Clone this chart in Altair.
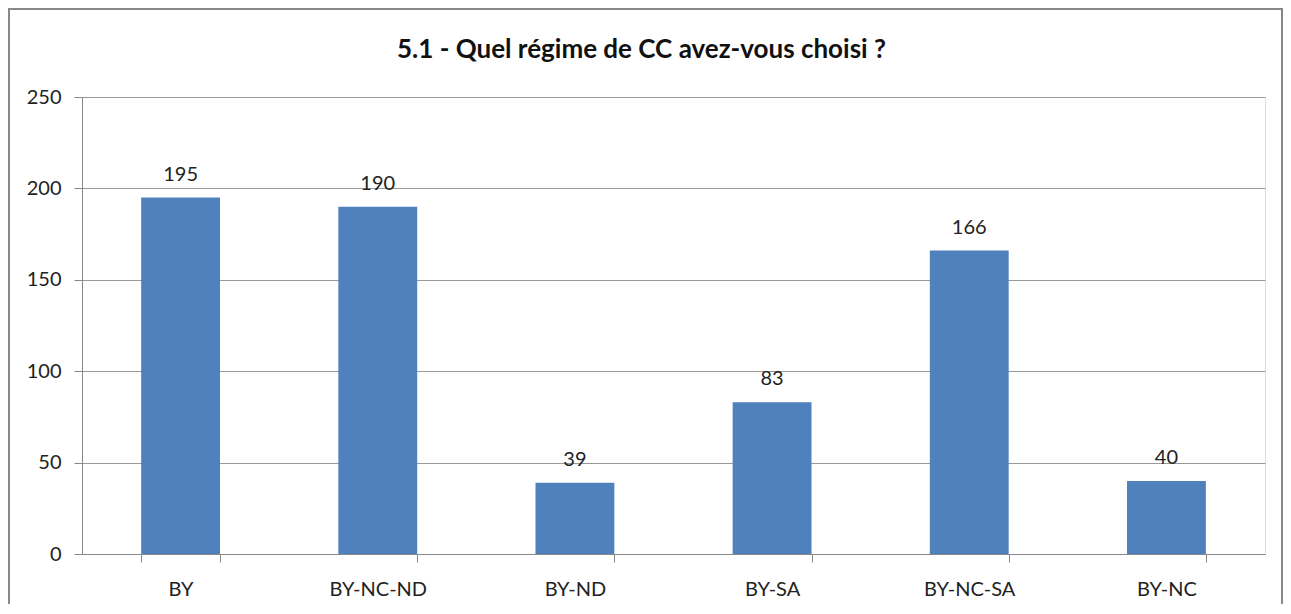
import altair as alt
import pandas as pd

categories = ["BY", "BY-NC-ND", "BY-ND", "BY-SA", "BY-NC-SA", "BY-NC"]
values = [195, 190, 39, 83, 166, 40]

df = pd.DataFrame({"cat": categories, "val": values})

W, H = 1183, 457
FONT = "Lato"

yscale = alt.Scale(domain=[0, 250], nice=False, zero=True)

base = alt.Chart(df).encode(
    x=alt.X("cat:N", sort=categories, title=None,
            scale=alt.Scale(paddingInner=0.6, paddingOuter=0.3),
            axis=alt.Axis(labelAngle=0, tickBand="extent", ticks=True, tickSize=8,
                          tickColor="#888888", domainColor="#888888",
                          labelPadding=17, labelFontSize=20, labelColor="#222222",
                          labelFont=FONT, grid=False)),
)

bars = base.mark_bar(color="#4F81BD").encode(
    y=alt.Y("val:Q", title=None, scale=yscale,
            axis=alt.Axis(values=[0, 50, 100, 150, 200, 250], tickSize=8,
                          tickColor="#888888", domainColor="#888888",
                          gridColor="#999999", grid=True, labelPadding=13,
                          labelFontSize=20, labelColor="#222222", labelFont=FONT)),
)

labels = base.mark_text(baseline="bottom", dy=-13, fontSize=20, font=FONT,
                        color="#222222").encode(
    y=alt.Y("val:Q", scale=yscale),
    text=alt.Text("val:Q"),
)

frame = alt.Chart(df).mark_rect(fill=None, stroke="#888888", strokeWidth=2,
                                clip=False).encode(
    x=alt.value(-73), x2=alt.value(W + 17),
    y=alt.value(-88), y2=alt.value(H + 80),
)

chart = alt.layer(frame, bars, labels).properties(
    width=W, height=H,
    autosize=alt.AutoSizeParams(type="none"),
    padding={"left": 74, "top": 89, "right": 18, "bottom": 50},
    title=alt.TitleParams("5.1 - Quel régime de CC avez-vous choisi ?",
                          fontSize=26, font=FONT, fontWeight="bold",
                          color="#111111", anchor="middle", frame="group",
                          offset=-55, dx=-32),
).configure_view(stroke=None).configure(background="white")

chart.save("out.html", embed_options={"renderer": "svg", "actions": False})
